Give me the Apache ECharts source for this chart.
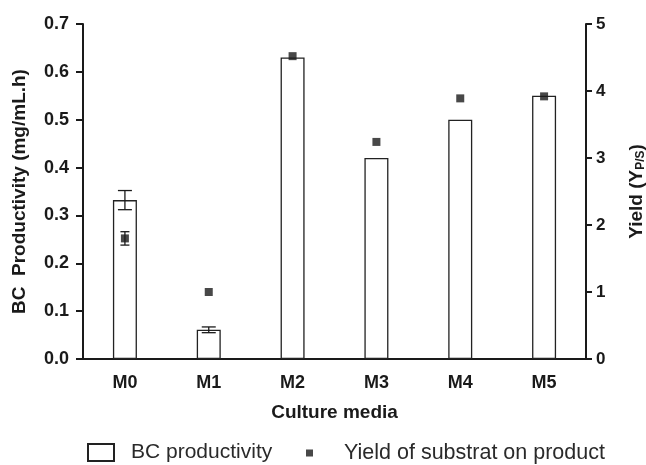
<!DOCTYPE html>
<html>
<head>
<meta charset="utf-8">
<script src="https://cdn.jsdelivr.net/npm/echarts@6/dist/echarts.min.js"></script>
<style>
  html, body { margin: 0; padding: 0; background: #fff; }
  #chart { width: 646px; height: 465px; }
</style>
</head>
<body>
<div id="chart"></div>
<script>
var categories = ['M0', 'M1', 'M2', 'M3', 'M4', 'M5']
var productivity = [0.332, 0.061, 0.63, 0.42, 0.50, 0.55]
var productivityErr = [0.02, 0.006, 0, 0, 0, 0]
var yieldValues = [1.80, 1.0, 4.52, 3.24, 3.89, 3.92]
var yieldErr = [0.10, 0, 0, 0, 0, 0]

var font = 'Liberation Sans, Arial, sans-serif'
var ink = '#1a1a1a'
var chart = echarts.init(document.getElementById('chart'))

// error bar drawn through the axis scales
function errorBar(values, errs, capHalf) {
  return function (params, api) {
    var i = params.dataIndex
    var err = errs[i]
    if (!err) return null
    var hi = api.coord([i, values[i] + err])
    var lo = api.coord([i, values[i] - err])
    var style = { stroke: ink, lineWidth: 1.3 }
    return {
      type: 'group',
      children: [
        { type: 'line', shape: { x1: hi[0], y1: hi[1], x2: lo[0], y2: lo[1] }, style: style },
        { type: 'line', shape: { x1: hi[0] - capHalf, y1: hi[1], x2: hi[0] + capHalf, y2: hi[1] }, style: style },
        { type: 'line', shape: { x1: lo[0] - capHalf, y1: lo[1], x2: lo[0] + capHalf, y2: lo[1] }, style: style }
      ]
    }
  }
}

chart.setOption({
  animation: false,
  grid: { left: 83, right: 60, top: 24, bottom: 106, outerBoundsMode: 'none' },
  legend: [
    {
      data: ['BC productivity'],
      left: 87, top: 442, padding: 0,
      itemWidth: 26, itemHeight: 17,
      icon: 'rect',
      textStyle: { fontFamily: font, fontSize: 21, color: '#2a2a2a', padding: [0, 0, 0, 12] }
    },
    {
      data: ['Yield of substrat on product'],
      left: 306, top: 442, padding: 0,
      itemWidth: 7, itemHeight: 7,
      icon: 'rect',
      textStyle: { fontFamily: font, fontSize: 21.5, color: '#2a2a2a', padding: [0, 0, 0, 26] }
    }
  ],
  xAxis: {
    type: 'category',
    data: categories,
    name: 'Culture media',
    nameLocation: 'middle',
    nameGap: 44,
    nameTextStyle: { fontFamily: font, fontSize: 19, fontWeight: 'bold', color: ink },
    axisLine: { lineStyle: { color: ink, width: 2 } },
    axisTick: { alignWithLabel: true, length: 6, lineStyle: { color: ink, width: 2 } },
    axisLabel: { fontFamily: font, fontSize: 18, fontWeight: 'bold', color: ink, margin: 15 }
  },
  yAxis: [
    {
      type: 'value',
      min: 0, max: 0.7, interval: 0.1,
      name: 'BC  Productivity (mg/mL.h)',
      nameLocation: 'middle',
      nameGap: 54,
      nameTextStyle: { fontFamily: font, fontSize: 19, fontWeight: 'bold', color: ink },
      axisLine: { show: true, lineStyle: { color: ink, width: 2 } },
      axisTick: { show: true, length: 7, lineStyle: { color: ink, width: 2 } },
      axisLabel: {
        fontFamily: font, fontSize: 18, fontWeight: 'bold', color: ink, margin: 14,
        formatter: function (v) { return v.toFixed(1) }
      },
      splitLine: { show: false }
    },
    {
      type: 'value',
      position: 'right',
      min: 0, max: 5, interval: 1,
      name: '{a|Yield (Y}{s|P/S}{a|)}',
      nameLocation: 'middle',
      nameRotate: 90,
      nameGap: 40,
      nameTextStyle: {
        rich: {
          a: { fontFamily: font, fontSize: 19, fontWeight: 'bold', color: ink },
          s: { fontFamily: font, fontSize: 12, fontWeight: 'bold', color: ink, padding: [9, 0, 0, 0] }
        }
      },
      axisLine: { show: true, lineStyle: { color: ink, width: 2 } },
      axisTick: { show: true, length: 6, lineStyle: { color: ink, width: 2 } },
      axisLabel: { fontFamily: font, fontSize: 17, fontWeight: 'bold', color: ink, margin: 10 },
      splitLine: { show: false }
    }
  ],
  series: [
    {
      name: 'BC productivity',
      type: 'bar',
      yAxisIndex: 0,
      barWidth: 24,
      data: productivity,
      itemStyle: { color: '#fff', borderColor: '#222', borderWidth: 1.3 }
    },
    {
      type: 'custom',
      yAxisIndex: 0,
      z: 5,
      data: productivity,
      renderItem: errorBar(productivity, productivityErr, 7)
    },
    {
      type: 'custom',
      yAxisIndex: 1,
      z: 5,
      data: yieldValues,
      renderItem: errorBar(yieldValues, yieldErr, 4.5)
    },
    {
      name: 'Yield of substrat on product',
      type: 'scatter',
      yAxisIndex: 1,
      z: 6,
      symbol: 'rect',
      symbolSize: 8,
      data: yieldValues,
      itemStyle: { color: '#1a1a1a' }
    }
  ]
})
</script>
</body>
</html>
